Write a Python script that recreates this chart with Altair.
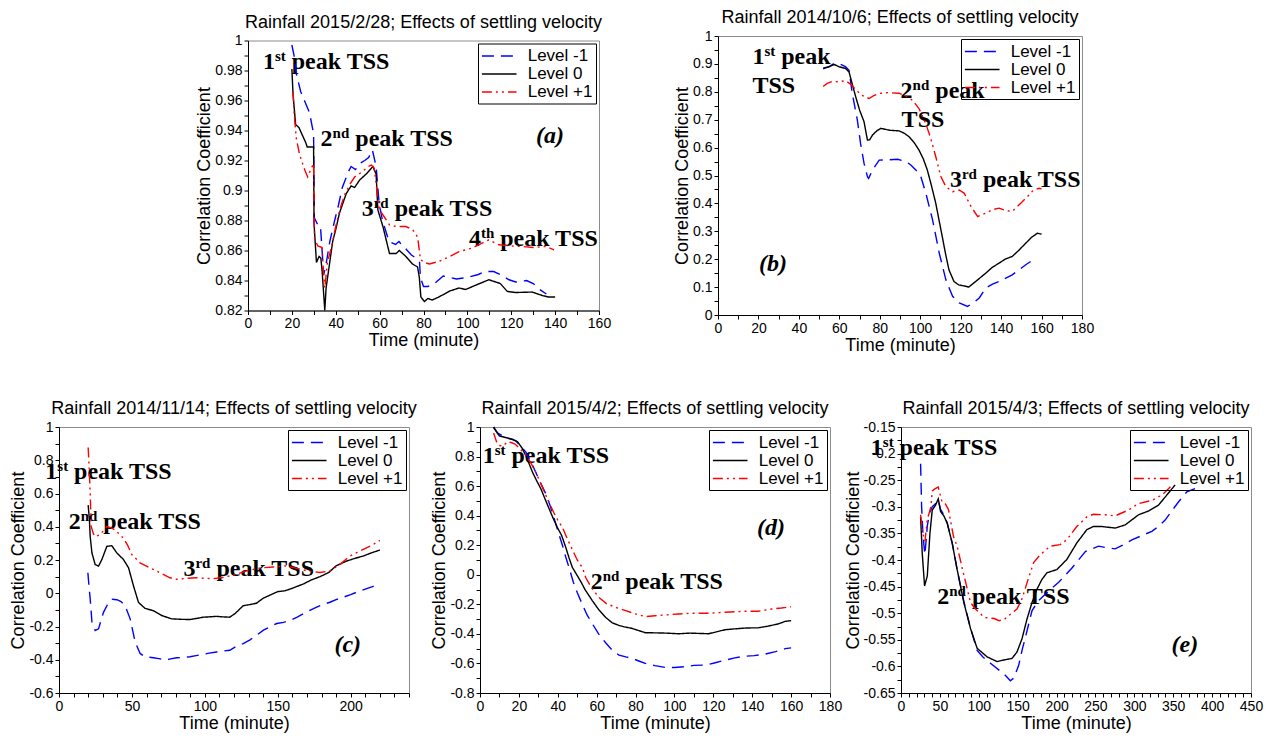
import altair as alt
import pandas as pd

LEVELS = ["Level -1", "Level 0", "Level +1"]
COLORS = ["#0000ff", "#000000", "#ff0000"]
DASHES = [[12, 7], [1, 0], [10, 4, 2, 4, 2, 4]]

# ---------------- panel (a) Rainfall 2015/2/28 ----------------
A_M1 = [(20, 0.997), (21, 0.99), (22, 0.978), (24, 0.966), (26, 0.959), (28, 0.952), (29.9, 0.938),
        (30.2, 0.882), (31.5, 0.878), (33, 0.877), (33.5, 0.866), (34.5, 0.844), (35.5, 0.85),
        (37.3, 0.866), (39.5, 0.88), (41.2, 0.89), (43, 0.902), (45.6, 0.912), (47, 0.916),
        (49, 0.914), (51, 0.918), (53.2, 0.92), (55, 0.922), (56.7, 0.927), (58.4, 0.916),
        (59.8, 0.891), (61.3, 0.88), (62.8, 0.873), (64.3, 0.866), (67.3, 0.864), (68.8, 0.866),
        (70, 0.864), (72, 0.861), (74.5, 0.857), (76.5, 0.855), (78.2, 0.852), (78.6, 0.842),
        (80, 0.836), (82, 0.836), (85, 0.838), (89, 0.843), (95, 0.841), (100, 0.842), (105, 0.844),
        (108, 0.846), (112, 0.846), (115, 0.844), (119, 0.8405), (122, 0.839), (127, 0.84),
        (130, 0.838), (133, 0.834), (136, 0.831)]
A_0 = [(20, 0.981), (20.5, 0.965), (21.7, 0.944), (23.2, 0.942), (26.3, 0.932), (27, 0.929),
       (29.9, 0.929), (30.1, 0.878), (31.2, 0.852), (32.4, 0.856), (33.2, 0.855), (33.8, 0.846),
       (35, 0.82), (35.6, 0.835), (38.6, 0.866), (40, 0.874), (41.7, 0.885), (44.8, 0.898),
       (47, 0.903), (48.6, 0.902), (50.9, 0.907), (53.9, 0.911), (56.9, 0.916), (58.4, 0.911),
       (59.2, 0.887), (61.5, 0.876), (63, 0.867), (64.5, 0.858), (67.5, 0.858), (69, 0.86),
       (72, 0.856), (75, 0.851), (77.3, 0.849), (78.1, 0.842), (78.8, 0.829), (80.4, 0.826),
       (82, 0.828), (84, 0.827), (87, 0.829), (92, 0.833), (96.2, 0.835), (99.2, 0.834),
       (104, 0.837), (109.8, 0.8405), (115, 0.838), (118.2, 0.8327), (122, 0.832), (129.6, 0.8323),
       (134.1, 0.830), (137, 0.829), (140, 0.829)]
A_P1 = [(20.5, 0.966), (21, 0.952), (22, 0.935), (23.5, 0.924), (25.8, 0.914), (27.2, 0.909),
        (28.6, 0.914), (29.9, 0.918), (30.3, 0.868), (31.8, 0.863), (33.8, 0.862), (34.3, 0.848),
        (35, 0.835), (36.2, 0.852), (38, 0.862), (40, 0.876), (42, 0.888), (44, 0.897),
        (46.4, 0.904), (48.6, 0.909), (51.6, 0.912), (54.9, 0.916), (56.3, 0.917), (57.5, 0.915),
        (58.4, 0.905), (59.3, 0.892), (60, 0.887), (62.3, 0.882), (64.5, 0.877), (67.5, 0.876),
        (72, 0.876), (75, 0.874), (77.3, 0.869), (78.1, 0.86), (78.6, 0.854), (80.4, 0.852),
        (82.7, 0.851), (87, 0.8527), (92, 0.856), (96.2, 0.8593), (102.2, 0.8616), (109.8, 0.8671),
        (114.4, 0.8638), (120, 0.863), (125, 0.8627), (130, 0.862), (135.7, 0.8627), (139.5, 0.8604)]
A_NOTES = [(6.8, 0.981, "1", "st", "peak TSS"), (33.1, 0.930, "2", "nd", "peak TSS"),
           (51.8, 0.8827, "3", "rd", "peak TSS"), (100.7, 0.8631, "4", "th", "peak TSS")]
A_TAG = (131.3, 0.9315, "(a)")

# ---------------- panel (b) Rainfall 2014/10/6 ----------------
B_M1 = [(52, 0.882), (55, 0.89), (57, 0.9), (59.8, 0.901), (63, 0.89), (64.8, 0.877), (66.4, 0.794),
        (68.9, 0.699), (70.5, 0.615), (72.2, 0.544), (73.9, 0.496), (74.5, 0.49), (76.4, 0.52),
        (79.7, 0.555), (84, 0.556), (88.8, 0.558), (92.9, 0.55), (95.5, 0.537), (97.8, 0.52),
        (100.3, 0.496), (102.8, 0.436), (106.1, 0.341), (109.4, 0.222), (112.7, 0.126), (116, 0.067),
        (119.3, 0.043), (123.4, 0.031), (126, 0.042), (129.2, 0.061), (132.4, 0.097), (135.5, 0.11),
        (139, 0.12), (145.5, 0.144), (152.2, 0.18), (157.1, 0.204)]
B_0 = [(52, 0.885), (55, 0.89), (57.5, 0.898), (59.8, 0.89), (63, 0.884), (64.8, 0.871), (66.3, 0.83),
       (68.1, 0.782), (70, 0.735), (72.2, 0.693), (73.9, 0.627), (75, 0.628), (76.4, 0.645),
       (78.5, 0.66), (80.5, 0.669), (85, 0.662), (89.5, 0.66), (92, 0.652), (94.5, 0.639), (97, 0.618),
       (99.4, 0.591), (101.5, 0.56), (103.5, 0.52), (105.5, 0.465), (107.7, 0.4), (109.3, 0.34),
       (110.9, 0.281), (112.5, 0.22), (114.2, 0.162), (116.7, 0.12), (119, 0.108), (122.5, 0.103),
       (124, 0.1), (127.4, 0.12), (132.4, 0.15), (135.5, 0.17), (139, 0.186), (142, 0.2),
       (145.5, 0.21), (148.5, 0.23), (152.2, 0.2575), (155, 0.278), (157.9, 0.293), (160, 0.29)]
B_P1 = [(52, 0.819), (54, 0.83), (56.5, 0.837), (59.8, 0.836), (63.1, 0.84), (66, 0.825), (68.1, 0.808),
        (71, 0.788), (74.7, 0.776), (77, 0.786), (79.7, 0.794), (84, 0.797), (89.5, 0.795), (93, 0.785),
        (96.1, 0.77), (99.4, 0.74), (102.7, 0.687), (105.2, 0.633), (107.7, 0.567), (110.2, 0.496),
        (112.7, 0.46), (116, 0.442), (119.3, 0.448), (121.8, 0.436), (125.1, 0.389), (128.4, 0.353),
        (132.4, 0.365), (136, 0.378), (139, 0.383), (142, 0.375), (145.5, 0.371), (149.6, 0.4),
        (153.8, 0.43), (156, 0.448), (158.7, 0.454), (160, 0.452)]
B_NOTES = [(17.0, 0.898, "1", "st", "peak"), (17.0, 0.7965, "", "", "TSS"),
           (90.3, 0.7786, "2", "nd", "peak"), (90.8, 0.675, "", "", "TSS"),
           (114.7, 0.46, "3", "rd", "peak TSS")]
B_TAG = (20.3, 0.156, "(b)")

# ---------------- panel (c) Rainfall 2014/11/14 ----------------
C_M1 = [(19.8, 0.123), (20.6, 0.04), (21.4, -0.035), (22.6, -0.174), (24.8, -0.224), (27.1, -0.214),
        (30.5, -0.115), (34, -0.055), (36.5, -0.036), (39.7, -0.039), (42.5, -0.05), (45.3, -0.075),
        (48.8, -0.154), (52.2, -0.293), (55.6, -0.362), (59, -0.382), (64.7, -0.388), (68.5, -0.393),
        (72.7, -0.402), (76.5, -0.395), (80.7, -0.388), (85, -0.386), (89.8, -0.382), (94, -0.375),
        (98.9, -0.368), (103, -0.36), (108, -0.353), (112, -0.348), (117.1, -0.343), (121, -0.322),
        (126.3, -0.303), (131, -0.28), (135.4, -0.253), (140.2, -0.222), (145, -0.2), (149.3, -0.182),
        (154, -0.175), (158.4, -0.163), (163, -0.145), (167.6, -0.123), (172, -0.103), (176.7, -0.083),
        (181, -0.068), (185.8, -0.054), (190, -0.038), (195, -0.024), (200, -0.008), (204, 0.006),
        (210, 0.025), (215, 0.04), (220, 0.056)]
C_0 = [(20, 0.53), (20.8, 0.45), (21.4, 0.34), (22.6, 0.242), (24.8, 0.173), (27.1, 0.163), (29.4, 0.203),
       (32.8, 0.282), (36.2, 0.286), (39.7, 0.242), (44.2, 0.203), (47.7, 0.153), (51.1, 0.044),
       (54.5, -0.055), (59, -0.091), (64.7, -0.105), (70.4, -0.134), (77.3, -0.154), (84, -0.157),
       (89.8, -0.158), (94, -0.152), (98.9, -0.144), (103, -0.142), (108, -0.139), (112, -0.142),
       (117.1, -0.144), (121, -0.12), (126.3, -0.075), (131, -0.068), (135.4, -0.06), (140, -0.03),
       (145, -0.01), (150, 0.01), (155, 0.015), (160, 0.03), (167.6, 0.056), (173, 0.08), (179, 0.1),
       (185, 0.125), (190, 0.165), (197.3, 0.194), (203, 0.21), (208.7, 0.224), (214, 0.242),
       (220, 0.26)]
C_P1 = [(20, 0.877), (20.7, 0.75), (21.4, 0.6), (22.1, 0.401), (23.5, 0.36), (24.8, 0.341), (28.2, 0.352),
        (32.8, 0.401), (35.5, 0.395), (38.5, 0.381), (44.2, 0.331), (47, 0.29), (49.9, 0.233),
        (55.6, 0.183), (62.4, 0.153), (69.3, 0.123), (76.1, 0.093), (80.6, 0.084), (88, 0.09),
        (94.4, 0.093), (100, 0.09), (105.8, 0.088), (112, 0.095), (120, 0.11), (128.8, 0.135),
        (138, 0.152), (147, 0.158), (156, 0.165), (163, 0.15), (170, 0.135), (179, 0.125),
        (186, 0.135), (192.7, 0.174), (199.5, 0.224), (208.7, 0.264), (215.5, 0.293), (220, 0.318)]
C_NOTES = [(-9.4, 0.6847, "1", "st", "peak TSS"), (6.6, 0.387, "2", "nd", "peak TSS"),
           (85.3, 0.1035, "3", "rd", "peak TSS")]
C_TAG = (188.9, -0.353, "(c)")

# ---------------- panel (d) Rainfall 2015/4/2 ----------------
D_M1 = [(7, 1.0), (9, 0.96), (11.6, 0.94), (14, 0.925), (16.8, 0.915), (18.5, 0.905), (21, 0.87),
        (23.6, 0.83), (25.5, 0.78), (27.9, 0.716), (30.5, 0.64), (33.8, 0.549), (36, 0.47),
        (38.1, 0.382), (40.7, 0.27), (42.4, 0.2), (44.1, 0.12), (46, 0.04), (48, -0.05), (50, -0.12),
        (52.6, -0.2), (55, -0.27), (57.8, -0.332), (61, -0.4), (64.6, -0.46), (68, -0.51),
        (71.5, -0.544), (75, -0.556), (78.3, -0.566), (82, -0.585), (85, -0.6), (90, -0.615),
        (95.4, -0.627), (100, -0.627), (105.6, -0.622), (110, -0.613), (116, -0.611), (121, -0.595),
        (126, -0.578), (131, -0.562), (136.4, -0.551), (141, -0.547), (146.7, -0.537), (152, -0.52),
        (157, -0.5), (160, -0.495)]
D_0 = [(7, 1.0), (7.3, 0.99), (9.9, 0.94), (13.3, 0.928), (16.8, 0.917), (19.3, 0.9), (21.5, 0.86),
       (23.6, 0.806), (25.3, 0.75), (27, 0.694), (29, 0.64), (31.3, 0.582), (33.4, 0.515),
       (35.5, 0.448), (37.7, 0.38), (39.8, 0.32), (42, 0.265), (44, 0.19), (45.8, 0.114), (47.5, 0.05),
       (50, -0.005), (52, -0.05), (54, -0.1), (57.8, -0.176), (61, -0.235), (64.6, -0.288),
       (68, -0.325), (71.5, -0.343), (74, -0.352), (78, -0.362), (81, -0.375), (85, -0.392),
       (90, -0.393), (96, -0.395), (102, -0.399), (108, -0.395), (113, -0.397), (117.6, -0.399),
       (122, -0.385), (126, -0.372), (131, -0.366), (137, -0.36), (143, -0.359), (148, -0.348),
       (153.5, -0.332), (157, -0.315), (160, -0.31)]
D_P1 = [(7, 0.96), (8.5, 0.9), (10, 0.875), (12, 0.872), (14, 0.9), (16, 0.895), (18, 0.885), (20, 0.86),
        (23, 0.82), (26, 0.76), (28.7, 0.694), (31.5, 0.61), (33.8, 0.54), (35.5, 0.49), (38, 0.42),
        (40, 0.37), (42.4, 0.32), (45, 0.24), (47.5, 0.17), (50, 0.1), (52.7, 0.047), (54.4, -0.02),
        (57.5, -0.09), (61.2, -0.154), (65, -0.195), (69.7, -0.22), (74.9, -0.243), (80, -0.265),
        (85, -0.283), (90, -0.277), (95.4, -0.272), (102, -0.265), (109, -0.26), (117.6, -0.26),
        (126, -0.254), (136, -0.247), (143, -0.247), (150, -0.232), (155, -0.225), (160, -0.216)]
D_NOTES = [(1.4, 0.7564, "1", "st", "peak TSS"), (56.9, -0.0977, "2", "nd", "peak TSS")]
D_TAG = (142.4, 0.266, "(d)")

# ---------------- panel (e) Rainfall 2015/4/3 ----------------
E_M1 = [(25.2, -0.219), (26.5, -0.3), (28.4, -0.356), (30.7, -0.39), (32.5, -0.36), (33.8, -0.336),
        (37, -0.31), (40.2, -0.3), (44, -0.295), (47.9, -0.287), (50.9, -0.305), (55.1, -0.315),
        (59.4, -0.33), (65.8, -0.368), (72.2, -0.418), (80.8, -0.478), (89.4, -0.528), (97.9, -0.57),
        (105, -0.582), (115, -0.594), (127.8, -0.609), (135, -0.618), (140.6, -0.627), (145, -0.622),
        (151.3, -0.598), (155.6, -0.57), (160, -0.545), (168.5, -0.495), (177.1, -0.476), (190, -0.458),
        (202.7, -0.442), (219.8, -0.415), (237, -0.384), (254, -0.374), (265, -0.377), (275.4, -0.379),
        (285, -0.372), (296.8, -0.362), (310, -0.354), (322.5, -0.346), (331, -0.337), (339.6, -0.325),
        (348, -0.308), (356.7, -0.291), (367.4, -0.272), (378, -0.266)]
E_0 = [(25.2, -0.319), (27.3, -0.387), (30.3, -0.449), (33.8, -0.43), (37.2, -0.35), (40.2, -0.306),
       (44.4, -0.297), (47.9, -0.285), (50.9, -0.309), (55.1, -0.317), (59.4, -0.331), (65.8, -0.368),
       (72.2, -0.418), (80.8, -0.48), (89.4, -0.529), (97.9, -0.566), (110.7, -0.582), (123.5, -0.591),
       (132, -0.588), (142.7, -0.585), (149.1, -0.573), (155.6, -0.548), (162, -0.511), (168.4, -0.48),
       (174.8, -0.455), (181, -0.437), (187.6, -0.424), (200.4, -0.418), (213.2, -0.399), (226, -0.368),
       (238.9, -0.343), (247.4, -0.337), (258.3, -0.337), (275.4, -0.34), (288.3, -0.334),
       (305.4, -0.315), (318.2, -0.308), (331, -0.297), (341.7, -0.278), (352.4, -0.259)]
E_P1 = [(25.2, -0.315), (28, -0.35), (30.8, -0.365), (33.8, -0.324), (38.5, -0.3), (40.2, -0.27),
        (44, -0.266), (47.9, -0.263), (52.6, -0.29), (56.8, -0.294), (61, -0.305), (67.5, -0.356),
        (72.2, -0.374), (79.1, -0.418), (83.3, -0.443), (89.4, -0.48), (95.8, -0.492), (107.1, -0.508),
        (119.9, -0.51), (126, -0.514), (132.6, -0.512), (141.3, -0.501), (149.1, -0.492),
        (155.6, -0.473), (162, -0.443), (166.2, -0.424), (170.5, -0.405), (179, -0.39), (191.9, -0.374),
        (204.7, -0.371), (213.2, -0.362), (226, -0.337), (238.9, -0.319), (247.4, -0.314),
        (262.6, -0.315), (275.4, -0.317), (292.6, -0.306), (305.4, -0.294), (322.5, -0.288),
        (335.3, -0.278), (343.9, -0.266), (348, -0.26)]
E_NOTES = [(-38.8, -0.2028, "1", "st", "peak TSS"), (46.6, -0.4827, "2", "nd", "peak TSS")]
E_TAG = (347.9, -0.5727, "(e)")

# ---------------- styling ----------------
SERIF = "Liberation Serif"
SANS = "Liberation Sans"
NOTE_SIZE = 24
SUP_SIZE = 15
NUM_W = 12
SUP_W = {"st": 10.8, "nd": 16.7, "rd": 15.0, "th": 13.3, "": 0}
SPACE_W = 6


def series_df(m1, z, p1):
    rows = []
    for name, pts in zip(LEVELS, [m1, z, p1]):
        for i, (x, y) in enumerate(pts):
            rows.append({"x": x, "y": y, "series": name, "i": i})
    return pd.DataFrame(rows)


def fmt_expr(step):
    return (f"abs(datum.value/{step} - round(datum.value/{step})) < 0.001 ? "
            "((datum.value < 0 ? '-' : '') + format(abs(datum.value), '~g')) : ''")


def ticks(lo, hi, step):
    n = int(round((hi - lo) / step))
    return [round(lo + step * k, 6) for k in range(n + 1)]


# wide, flat legend symbol: a horizontal stroke twice as long as the nominal symbol size;
# the box is left unfilled so that annotations crossing it stay readable, as in the original
LEG = alt.Legend(title=None, orient="top-right", offset=3, strokeColor="black",
                 padding=3, symbolType="M-2,0H2", symbolSize=300, symbolStrokeWidth=1.5,
                 symbolOffset=8.7, labelOffset=19,
                 labelFont=SANS, labelFontSize=17, labelColor="black", rowPadding=0,
                 cornerRadius=0, labelLimit=200)


def panel(title, m1, z, p1, xdom, xmaj, xmin, ydom, ymaj, ymin, notes, tag, width, height):
    xenc = alt.X("x:Q", scale=alt.Scale(domain=xdom, nice=False, zero=False),
                 axis=alt.Axis(title="Time (minute)", values=ticks(xdom[0], xdom[1], xmin),
                               labelExpr=fmt_expr(xmaj)))
    yenc = alt.Y("y:Q", scale=alt.Scale(domain=ydom, nice=False, zero=False),
                 axis=alt.Axis(title="Correlation Coefficient", values=ticks(ydom[0], ydom[1], ymin),
                               labelExpr=fmt_expr(ymaj)))
    layers = []
    for (x, y, num, sup, rest) in notes:
        base = alt.Chart(pd.DataFrame({"x": [x], "y": [y]}))
        if num:
            layers.append(base.mark_text(text=num, font=SERIF, fontSize=NOTE_SIZE, fontWeight="bold",
                                         align="left", baseline="alphabetic", color="black")
                          .encode(x=xenc, y=yenc))
            layers.append(base.mark_text(text=sup, font=SERIF, fontSize=SUP_SIZE, fontWeight="bold",
                                         align="left", baseline="alphabetic", color="black",
                                         dx=NUM_W, dy=-8)
                          .encode(x=xenc, y=yenc))
            off = NUM_W + SUP_W[sup] + SPACE_W
        else:
            off = 0
        layers.append(base.mark_text(text=rest, font=SERIF, fontSize=NOTE_SIZE, fontWeight="bold",
                                     align="left", baseline="alphabetic", color="black", dx=off)
                      .encode(x=xenc, y=yenc))
    tx, ty, tt = tag
    layers.append(alt.Chart(pd.DataFrame({"x": [tx], "y": [ty]}))
                  .mark_text(text=tt, font=SERIF, fontSize=NOTE_SIZE, fontWeight="bold",
                             fontStyle="italic", align="left", baseline="alphabetic", color="black")
                  .encode(x=xenc, y=yenc))
    lines = alt.Chart(series_df(m1, z, p1)).mark_line(strokeWidth=1.4).encode(
        x=xenc, y=yenc,
        color=alt.Color("series:N", scale=alt.Scale(domain=LEVELS, range=COLORS), legend=LEG),
        strokeDash=alt.StrokeDash("series:N", scale=alt.Scale(domain=LEVELS, range=DASHES), legend=LEG),
        order=alt.Order("i:Q"),
    )
    layers.append(lines)
    return alt.layer(*layers).properties(
        width=width, height=height,
        title=alt.TitleParams(title, font=SANS, fontSize=18, fontWeight="normal", color="black",
                              anchor="middle", offset=2),
    )


pa = panel("Rainfall 2015/2/28; Effects of settling velocity", A_M1, A_0, A_P1,
           [0, 160], 20, 10, [0.82, 1.0], 0.02, 0.01, A_NOTES, A_TAG, 351, 270)
pb = panel("Rainfall 2014/10/6; Effects of settling velocity", B_M1, B_0, B_P1,
           [0, 180], 20, 10, [0, 1.0], 0.1, 0.05, B_NOTES, B_TAG, 364, 279)
pc = panel("Rainfall 2014/11/14; Effects of settling velocity", C_M1, C_0, C_P1,
           [0, 240], 50, 10, [-0.6, 1.0], 0.2, 0.1, C_NOTES, C_TAG, 350, 266)
pd_ = panel("Rainfall 2015/4/2; Effects of settling velocity", D_M1, D_0, D_P1,
            [0, 180], 20, 10, [-0.8, 1.0], 0.2, 0.1, D_NOTES, D_TAG, 350, 266)
pe = panel("Rainfall 2015/4/3; Effects of settling velocity", E_M1, E_0, E_P1,
           [0, 450], 50, 10, [-0.65, -0.15], 0.05, 0.025, E_NOTES, E_TAG, 350, 266)

blank = alt.Chart(pd.DataFrame({"x": [0], "y": [0]})).mark_point(opacity=0).encode(
    x=alt.X("x:Q", axis=None), y=alt.Y("y:Q", axis=None)
).properties(width=70, height=270, view=alt.ViewBackground(stroke="transparent"))

IND = dict(x="independent", y="independent", color="independent", strokeDash="independent")

row1 = alt.hconcat(blank, pa, pb, spacing=119, bounds="flush", center=True) \
    .resolve_scale(**IND).resolve_legend(color="independent", strokeDash="independent") \
    .resolve_axis(x="independent", y="independent")
row2 = alt.hconcat(pc, pd_, pe, spacing=71, bounds="flush") \
    .resolve_scale(**IND).resolve_legend(color="independent", strokeDash="independent") \
    .resolve_axis(x="independent", y="independent")

chart = alt.vconcat(row1, row2, spacing=44) \
    .resolve_scale(**IND).resolve_legend(color="independent", strokeDash="independent") \
    .resolve_axis(x="independent", y="independent") \
    .properties(padding={"left": 1, "top": 0, "right": 0, "bottom": 0}) \
    .configure_view(stroke="#8c8c8c", strokeWidth=1) \
    .configure_axis(labelFont=SANS, labelFontSize=14, labelColor="black", titleFont=SANS,
                    titleFontSize=18, titleFontWeight="normal", titleColor="black",
                    domainColor="black", tickColor="black", tickSize=4, grid=False,
                    labelFlush=False, labelOverlap=False, labelPadding=3, titlePadding=3) \
    .configure_axisY(labelPadding=2, titlePadding=1) \
    .configure_axisX(labelPadding=2, titlePadding=1)

chart.save("out.html", embed_options={"renderer": "svg", "actions": False})
